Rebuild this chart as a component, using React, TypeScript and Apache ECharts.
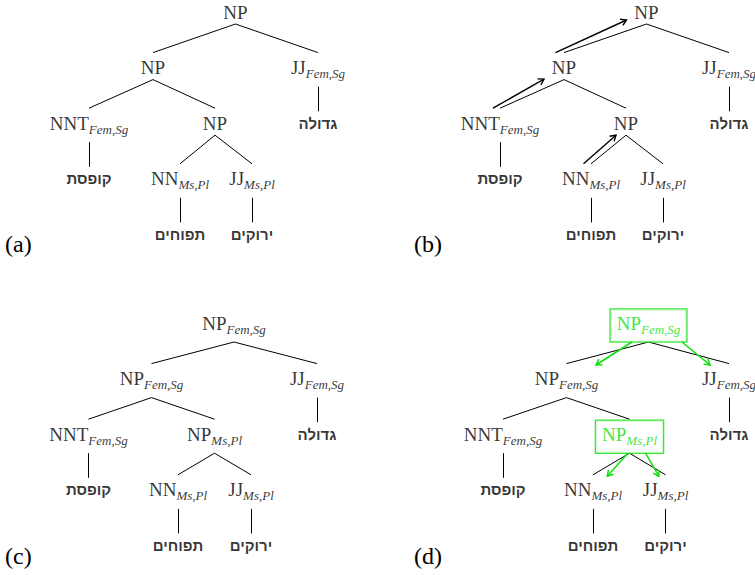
import React, { useEffect, useRef } from "react";
import * as echarts from "echarts";

// ---------------- data ----------------
// syntactic tags (same tree in the four panels)
const tagNames = ["NP", "NP", "JJ", "NNT", "NP", "NN", "JJ"];
const tagLevels = [0, 1, 1, 2, 2, 3, 3];
const tagFeaturesBare = ["", "", "Fem,Sg", "Fem,Sg", "", "Ms,Pl", "Ms,Pl"];
const tagFeaturesFull = ["Fem,Sg", "Fem,Sg", "Fem,Sg", "Fem,Sg", "Ms,Pl", "Ms,Pl", "Ms,Pl"];
// tree edges (parent -> child, tag indices)
const edgeParents = [0, 0, 1, 1, 4, 4];
const edgeChildren = [1, 2, 3, 4, 5, 6];
// Hebrew leaves
const words = ["גדולה", "קופסת", "תפוחים", "ירוקים"];
const wordTags = [2, 3, 5, 6];
const wordLevels = [2, 3, 4, 4];
// horizontal position of each tag in its panel
const tagXa = [235.5, 153, 318, 89, 215, 180, 252];
const tagXb = [235.5, 153, 318, 89, 215, 180, 252];
const tagXc = [234, 151.5, 317, 88.5, 214.5, 178, 251];
const tagXd = [237.5, 155.5, 318, 92, 218.5, 182, 254.5];
// (b) head arrows going up (child -> parent)
const climbChildren = [1, 3, 5];
const climbParents = [0, 1, 4];
// (d) agreement arrows going down (parent -> child)
const spreadParents = [0, 0, 4, 4];
const spreadChildren = [1, 2, 5, 6];
const boxedTags = [0, 4];
const panelNames = ["(a)", "(b)", "(c)", "(d)"];

// ---------------- style / layout ----------------
const SERIF = '"Liberation Serif", "DejaVu Serif", serif';
const SANS = '"Liberation Sans", "DejaVu Sans", sans-serif';
const INK = "#000000";
const GREEN = "#0ddf0d";
const STEP = 55.6;
const GAP_ABOVE = 15;
const GAP_BELOW_PLAIN = 12;
const GAP_BELOW_SUB = 19;
const WORD_GAP_ABOVE = 12;

const climbStyle = {
  startDx: [-8.5, -7, -7.5],
  startDy: -15,
  endDx: [-20, -20, -10],
  endDy: [8, 11.5, 12],
};
const spreadStyle = {
  startDx: [-16.6, 33.4, -1.7, 16],
  startDy: 19,
  endDx: [29.5, -19, 14.3, -6.7],
  endDy: -13.6,
};

const panels = [
  { left: 0, top: 12, width: 377, xs: tagXa, feats: tagFeaturesBare, climb: false, spread: false, nameX: 5, nameY: 244 },
  { left: 411, top: 12, width: 344, xs: tagXb, feats: tagFeaturesBare, climb: true, spread: false, nameX: 414, nameY: 244 },
  { left: 0, top: 323, width: 377, xs: tagXc, feats: tagFeaturesFull, climb: false, spread: false, nameX: 5, nameY: 556 },
  { left: 411, top: 323, width: 344, xs: tagXd, feats: tagFeaturesFull, climb: false, spread: true, nameX: 414, nameY: 556 },
];

function arrowRender(color: string, width: number) {
  return (params: any, api: any) => {
    const p1 = api.coord([api.value(0), api.value(1)]);
    const p2 = api.coord([api.value(2), api.value(3)]);
    const ang = Math.atan2(p2[1] - p1[1], p2[0] - p1[0]);
    const L = 6.5;
    const A = 0.55;
    const h1 = [p2[0] - L * Math.cos(ang - A), p2[1] - L * Math.sin(ang - A)];
    const h2 = [p2[0] - L * Math.cos(ang + A), p2[1] - L * Math.sin(ang + A)];
    return {
      type: "group",
      children: [
        { type: "line", shape: { x1: p1[0], y1: p1[1], x2: p2[0], y2: p2[1] }, style: { stroke: color, lineWidth: width } },
        { type: "polyline", shape: { points: [h1, p2, h2] }, style: { stroke: color, lineWidth: width, fill: null } },
      ],
    };
  };
}

function buildOption() {
  const grids: any[] = [];
  const xAxes: any[] = [];
  const yAxes: any[] = [];
  const series: any[] = [];
  const graphics: any[] = [];

  panels.forEach((p, pi) => {
    grids.push({ left: p.left, top: p.top, width: p.width, height: STEP * 4 });
    xAxes.push({ gridIndex: pi, type: "value", min: 0, max: p.width, show: false });
    yAxes.push({ gridIndex: pi, type: "value", min: 0, max: 4, inverse: true, show: false });
    const lv = (px: number) => px / STEP;
    const gapBelow = (i: number) => (p.feats[i] ? GAP_BELOW_SUB : GAP_BELOW_PLAIN);

    // tags
    series.push({
      type: "scatter",
      xAxisIndex: pi,
      yAxisIndex: pi,
      symbolSize: 0,
      silent: true,
      z: 5,
      data: tagNames.map((n, i) => {
        const boxed = p.spread && boxedTags.indexOf(i) >= 0;
        const item: any = { value: [p.xs[i], tagLevels[i]], name: n, feat: p.feats[i], boxed };
        if (boxed) {
          item.label = {
            borderColor: GREEN,
            borderWidth: 1.3,
            padding: [1, 6, 6, 6],
            offset: [0, 2.5],
            backgroundColor: "#ffffff",
          };
        }
        return item;
      }),
      label: {
        show: true,
        position: "inside",
        formatter: (params: any) => {
          const d = params.data;
          const m = d.boxed ? "gm" : "m";
          const s = d.boxed ? "gs" : "s";
          return d.feat ? `{${m}|${d.name}}{${s}|${d.feat}}` : `{${m}|${d.name}}`;
        },
        rich: {
          m: { fontFamily: SERIF, fontSize: 19, color: INK },
          s: { fontFamily: SERIF, fontSize: 13, fontStyle: "italic", color: INK, padding: [12, 0, 0, 0] },
          gm: { fontFamily: SERIF, fontSize: 19, color: GREEN },
          gs: { fontFamily: SERIF, fontSize: 13, fontStyle: "italic", color: GREEN, padding: [12, 0, 0, 0] },
        },
      },
    });

    // Hebrew words
    series.push({
      type: "scatter",
      xAxisIndex: pi,
      yAxisIndex: pi,
      symbolSize: 0,
      silent: true,
      z: 5,
      data: words.map((w, k) => ({ value: [p.xs[wordTags[k]], wordLevels[k]], name: w })),
      label: {
        show: true,
        position: "inside",
        formatter: "{b}",
        fontFamily: SANS,
        fontWeight: "bold",
        fontSize: 15,
        color: INK,
      },
    });

    // tree edges
    const edgeData: any[] = edgeParents.map((pa, e) => {
      const ch = edgeChildren[e];
      return {
        coords: [
          [p.xs[pa], tagLevels[pa] + lv(gapBelow(pa))],
          [p.xs[ch], tagLevels[ch] - lv(GAP_ABOVE)],
        ],
      };
    });
    wordTags.forEach((t, k) => {
      edgeData.push({
        coords: [
          [p.xs[t], tagLevels[t] + lv(gapBelow(t))],
          [p.xs[t], wordLevels[k] - lv(WORD_GAP_ABOVE)],
        ],
      });
    });
    series.push({
      type: "lines",
      coordinateSystem: "cartesian2d",
      xAxisIndex: pi,
      yAxisIndex: pi,
      silent: true,
      z: 2,
      lineStyle: { color: INK, width: 1, opacity: 1 },
      data: edgeData,
    });

    if (p.climb) {
      series.push({
        type: "custom",
        xAxisIndex: pi,
        yAxisIndex: pi,
        silent: true,
        z: 3,
        encode: { x: [0, 2], y: [1, 3] },
        renderItem: arrowRender(INK, 1.4),
        data: climbChildren.map((c, k) => {
          const pa = climbParents[k];
          return [
            p.xs[c] + climbStyle.startDx[k],
            tagLevels[c] + lv(climbStyle.startDy),
            p.xs[pa] + climbStyle.endDx[k],
            tagLevels[pa] + lv(climbStyle.endDy[k]),
          ];
        }),
      });
    }
    if (p.spread) {
      series.push({
        type: "custom",
        xAxisIndex: pi,
        yAxisIndex: pi,
        silent: true,
        z: 6,
        encode: { x: [0, 2], y: [1, 3] },
        renderItem: arrowRender(GREEN, 1.5),
        data: spreadParents.map((pa, k) => {
          const c = spreadChildren[k];
          return [
            p.xs[pa] + spreadStyle.startDx[k],
            tagLevels[pa] + lv(spreadStyle.startDy),
            p.xs[c] + spreadStyle.endDx[k],
            tagLevels[c] + lv(spreadStyle.endDy),
          ];
        }),
      });
    }

    graphics.push({
      type: "text",
      x: p.nameX,
      y: p.nameY,
      silent: true,
      style: {
        text: panelNames[pi],
        fontFamily: SERIF,
        fontSize: 24,
        fill: INK,
        align: "left",
        verticalAlign: "middle",
      },
    });
  });

  return {
    animation: false,
    backgroundColor: "#ffffff",
    grid: grids,
    xAxis: xAxes,
    yAxis: yAxes,
    series,
    graphic: graphics,
  };
}

export default function App() {
  const ref = useRef<HTMLDivElement>(null);
  useEffect(() => {
    if (!ref.current) return;
    const chart = echarts.init(ref.current, undefined, { renderer: "svg" });
    chart.setOption(buildOption() as any);
    return () => chart.dispose();
  }, []);
  return (
    <div
      ref={ref}
      style={{ position: "fixed", left: 0, top: 0, width: 755, height: 575, background: "#fff" }}
    />
  );
}
